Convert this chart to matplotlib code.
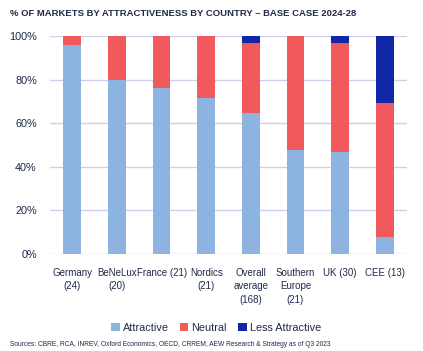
import matplotlib.pyplot as plt
import numpy as np

plt.rcParams['font.family'] = ['Liberation Sans', 'DejaVu Sans']

# Data (share of markets, %)
categories = ["Germany\n(24)", "BeNeLux\n(20)", "France (21)", "Nordics\n(21)",
              "Overall\naverage\n(168)", "Southern\nEurope\n(21)", "UK (30)", "CEE (13)"]
attractive = [95.8, 80.0, 76.2, 71.4, 64.9, 47.6, 46.7, 7.7]
neutral = [4.2, 20.0, 23.8, 28.6, 32.1, 52.4, 50.0, 61.5]
less_attractive = [0.0, 0.0, 0.0, 0.0, 3.0, 0.0, 3.3, 30.8]

c_attr = "#8DB4E0"
c_neut = "#F05A5C"
c_less = "#1226A8"
txt = "#1F2A4A"
grid_c = "#CDD0EA"

fig = plt.figure(figsize=(4.23, 3.51), dpi=100)
ax = fig.add_axes([50 / 423, 1 - 254 / 351, 357 / 423, 218 / 351])

x = np.arange(len(categories))
w = 0.4
att = np.array(attractive)
neu = np.array(neutral)
les = np.array(less_attractive)
ax.bar(x, att, w, color=c_attr, label="Attractive", zorder=3)
ax.bar(x, neu, w, bottom=att, color=c_neut, label="Neutral", zorder=3)
ax.bar(x, les, w, bottom=att + neu, color=c_less, label="Less Attractive", zorder=3)

ax.set_xlim(-0.5, len(categories) - 0.5)
ax.set_ylim(0, 100)
ax.set_yticks(range(0, 101, 20))
ax.set_yticklabels([f"{v}%" for v in range(0, 101, 20)])
ax.set_xticks(x)
ax.set_xticklabels(categories, linespacing=1.45)
ax.tick_params(axis="x", length=0, colors=txt, labelsize=7, pad=10)
ax.tick_params(axis="y", length=0, colors=txt, labelsize=7.8, pad=9.5)
ax.grid(axis="y", color=grid_c, linewidth=1, zorder=0)
for s in ax.spines.values():
    s.set_visible(False)

fig.text(10 / 423, 1 - 13 / 351, "% OF MARKETS BY ATTRACTIVENESS BY COUNTRY \u2013 BASE CASE 2024-28",
         fontsize=6.8, fontweight="bold", color=txt, va="center", ha="left")

fig.legend(loc="center", bbox_to_anchor=(216 / 423, 1 - 328 / 351), ncol=3, frameon=False,
           fontsize=7.8, handlelength=0.8, handleheight=0.8, handletextpad=0.3,
           columnspacing=1.0, labelcolor=txt)

fig.text(10 / 423, 1 - 344 / 351,
         "Sources: CBRE, RCA, INREV, Oxford Economics, OECD, CRREM, AEW Research & Strategy as of Q3 2023",
         fontsize=4.8, color=txt, va="center", ha="left")

fig.savefig("out.png", dpi=100)
